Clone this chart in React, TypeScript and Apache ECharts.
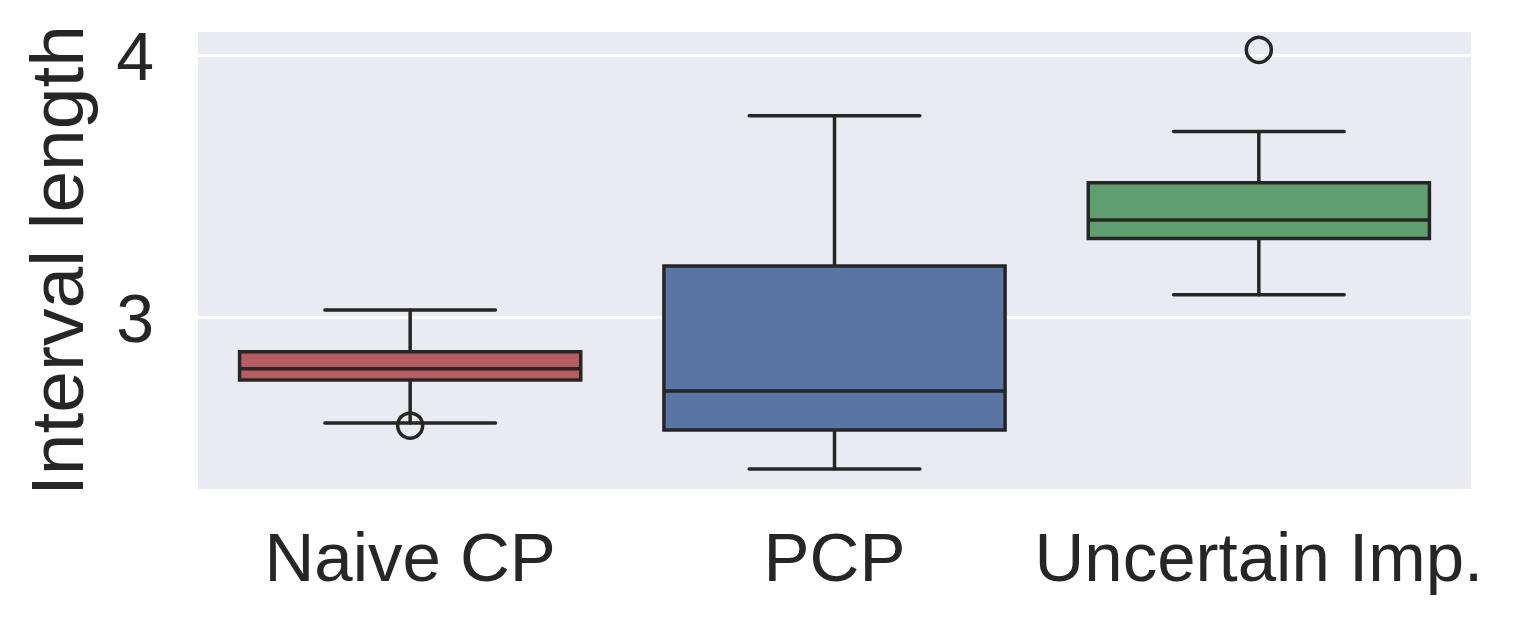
import React, { useEffect, useRef } from "react";
import * as echarts from "echarts";

const categories = ["Naive CP", "PCP", "Uncertain Imp."];
const whiskerLow = [2.598, 2.422, 3.087];
const q1 = [2.762, 2.571, 3.302];
const median = [2.805, 2.72, 3.373];
const q3 = [2.87, 3.197, 3.515];
const whiskerHigh = [3.029, 3.77, 3.71];
const outliers: [number, number][] = [
  [0, 2.588],
  [2, 4.022],
];
const boxColors = ["#b55d60", "#5975a4", "#5f9e6e"];
const yTicks = [3, 4];

const LINE = "#262626";

export default function App() {
  const ref = useRef<HTMLDivElement>(null);
  useEffect(() => {
    if (!ref.current) return;
    const chart = echarts.init(ref.current, null, { renderer: "svg" });
    const boxData = categories.map((_, i) => [
      i,
      whiskerLow[i],
      q1[i],
      median[i],
      q3[i],
      whiskerHigh[i],
    ]);
    chart.setOption({
      animation: false,
      textStyle: { fontFamily: "Liberation Sans, Arial, sans-serif" },
      grid: {
        left: 198,
        right: 42,
        top: 32,
        bottom: 136,
        show: true,
        backgroundColor: "#eaeaf2",
        borderWidth: 0,
      },
      xAxis: {
        type: "category",
        data: categories,
        axisLine: { show: false },
        axisTick: { show: false },
        axisLabel: {
          color: LINE,
          fontSize: 69,
          margin: 34,
          interval: 0,
          hideOverlap: false,
        },
      },
      yAxis: {
        type: "value",
        min: 2.346,
        max: 4.09,
        name: "Interval length",
        nameLocation: "middle",
        nameGap: 104,
        nameRotate: 90,
        nameTextStyle: { color: LINE, fontSize: 75 },
        axisLine: { show: false },
        axisTick: { show: false, customValues: yTicks },
        axisLabel: {
          color: LINE,
          fontSize: 68,
          margin: 44,
          customValues: yTicks,
          formatter: (v: number) => String(Math.round(v)),
        },
        splitLine: { show: true, lineStyle: { color: "#ffffff", width: 3 } },
      },
      series: [
        {
          type: "custom",
          data: boxData,
          encode: { x: 0, y: [1, 2, 3, 4, 5] },
          renderItem: (params: any, api: any) => {
            const idx = api.value(0);
            const band = api.size([1, 0])[0];
            const bw = band * 0.804;
            const cw = band * 0.402;
            const pLow = api.coord([idx, api.value(1)]);
            const pQ1 = api.coord([idx, api.value(2)]);
            const pMed = api.coord([idx, api.value(3)]);
            const pQ3 = api.coord([idx, api.value(4)]);
            const pHigh = api.coord([idx, api.value(5)]);
            const cx = pQ1[0];
            const ls = { stroke: LINE, lineWidth: 3.5, lineCap: "round" };
            return {
              type: "group",
              children: [
                { type: "line", shape: { x1: cx, y1: pQ1[1], x2: cx, y2: pLow[1] }, style: ls },
                { type: "line", shape: { x1: cx, y1: pQ3[1], x2: cx, y2: pHigh[1] }, style: ls },
                { type: "line", shape: { x1: cx - cw / 2, y1: pLow[1], x2: cx + cw / 2, y2: pLow[1] }, style: ls },
                { type: "line", shape: { x1: cx - cw / 2, y1: pHigh[1], x2: cx + cw / 2, y2: pHigh[1] }, style: ls },
                {
                  type: "rect",
                  shape: { x: cx - bw / 2, y: pQ3[1], width: bw, height: pQ1[1] - pQ3[1] },
                  style: { fill: boxColors[idx], stroke: LINE, lineWidth: 3.5 },
                },
                { type: "line", shape: { x1: cx - bw / 2, y1: pMed[1], x2: cx + bw / 2, y2: pMed[1] }, style: { stroke: LINE, lineWidth: 3.5 } },
              ],
            };
          },
          z: 2,
        },
        {
          type: "scatter",
          data: outliers,
          symbol: "circle",
          symbolSize: 25,
          itemStyle: { color: "rgba(0,0,0,0)", borderColor: LINE, borderWidth: 3.5, opacity: 1 },
          z: 3,
        },
      ],
    });
    return () => chart.dispose();
  }, []);
  return <div ref={ref} style={{ width: 1513, height: 625, margin: -8 }} />;
}
